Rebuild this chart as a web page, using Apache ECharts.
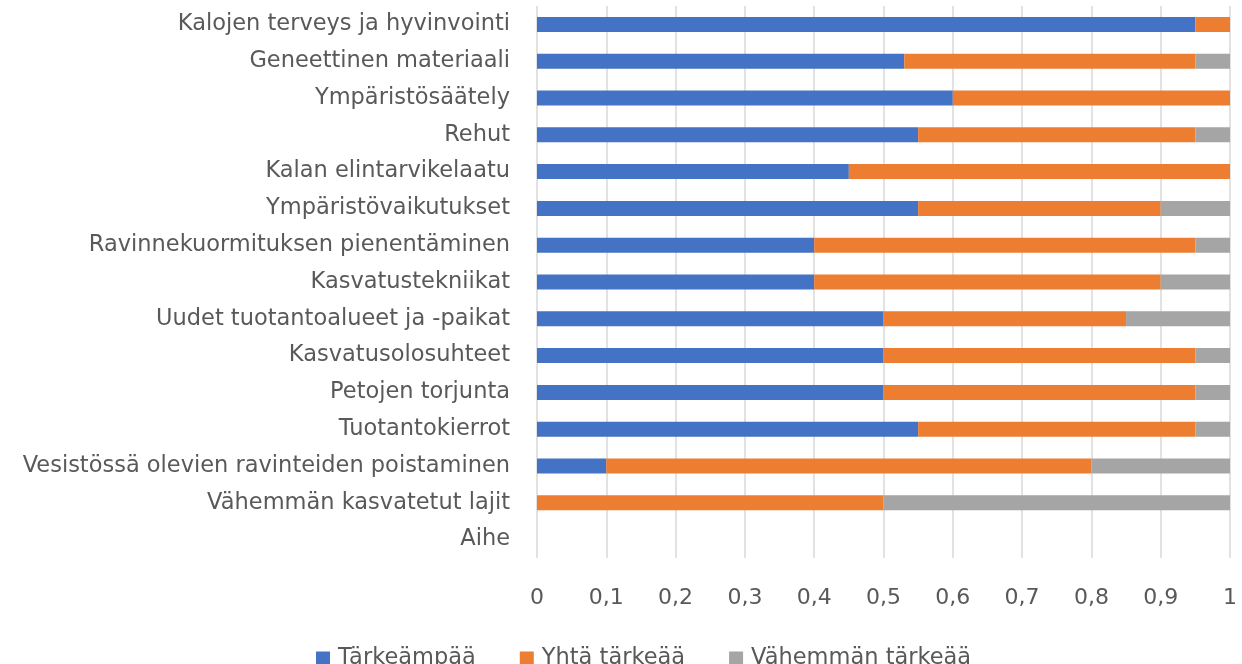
<!DOCTYPE html>
<html>
<head>
<meta charset="utf-8">
<script src="https://cdn.jsdelivr.net/npm/echarts@6/dist/echarts.min.js"></script>
<style>
  html, body { margin: 0; padding: 0; background: #fff; }
  #chart { width: 1242px; height: 664px; }
</style>
</head>
<body>
<div id="chart"></div>
<script>
var categories = [
  "Kalojen terveys ja hyvinvointi",
  "Geneettinen materiaali",
  "Ympäristösäätely",
  "Rehut",
  "Kalan elintarvikelaatu",
  "Ympäristövaikutukset",
  "Ravinnekuormituksen pienentäminen",
  "Kasvatustekniikat",
  "Uudet tuotantoalueet ja -paikat",
  "Kasvatusolosuhteet",
  "Petojen torjunta",
  "Tuotantokierrot",
  "Vesistössä olevien ravinteiden poistaminen",
  "Vähemmän kasvatetut lajit",
  "Aihe"
];
var tarkeampaa = [0.95, 0.53, 0.6, 0.55, 0.45, 0.55, 0.4, 0.4, 0.5, 0.5, 0.5, 0.55, 0.1, 0, null];
var yhtaTarkeaa = [0.05, 0.42, 0.4, 0.4, 0.55, 0.35, 0.55, 0.5, 0.35, 0.45, 0.45, 0.4, 0.7, 0.5, null];
var vahemmanTarkeaa = [0, 0.05, 0, 0.05, 0, 0.1, 0.05, 0.1, 0.15, 0.05, 0.05, 0.05, 0.2, 0.5, null];

var font = "DejaVu Sans";
var textColor = "#595959";

var chart = echarts.init(document.getElementById("chart"));

function bar(name, data, color) {
  return {
    name: name,
    type: "bar",
    stack: "total",
    data: data,
    barWidth: 15,
    itemStyle: { color: color },
    emphasis: { disabled: true }
  };
}

chart.setOption({
  animation: false,
  textStyle: { fontFamily: font },
  grid: { left: 537, right: 12, top: 6, height: 552 },
  legend: {
    bottom: -11,
    left: 311,
    itemWidth: 14,
    itemHeight: 14,
    itemGap: 44,
    icon: "rect",
    textStyle: { fontFamily: font, fontSize: 22.5, color: textColor, padding: [0, 0, 0, 3] },
    data: ["Tärkeämpää", "Yhtä tärkeää", "Vähemmän tärkeää"]
  },
  xAxis: {
    type: "value",
    min: 0,
    max: 1,
    interval: 0.1,
    axisLine: { show: false },
    axisTick: { show: false },
    splitLine: { lineStyle: { color: "#d9d9d9", width: 1.5 } },
    axisLabel: {
      margin: 29,
      fontFamily: font,
      fontSize: 22,
      color: textColor,
      formatter: function (v) { return String(Math.round(v * 10) / 10).replace(".", ","); }
    }
  },
  yAxis: {
    type: "category",
    inverse: true,
    data: categories,
    axisLine: { show: false },
    axisTick: { show: false },
    axisLabel: { margin: 27, fontFamily: font, fontSize: 22.5, color: textColor }
  },
  series: [
    bar("Tärkeämpää", tarkeampaa, "#4472C4"),
    bar("Yhtä tärkeää", yhtaTarkeaa, "#ED7D31"),
    bar("Vähemmän tärkeää", vahemmanTarkeaa, "#A5A5A5")
  ]
});
</script>
</body>
</html>
